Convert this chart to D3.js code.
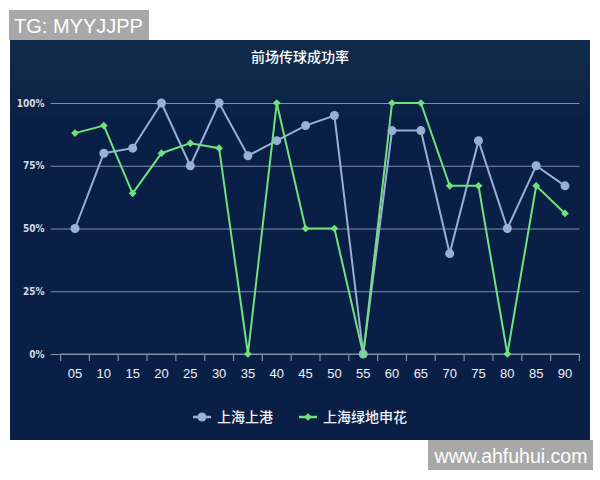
<!DOCTYPE html>
<html>
<head>
<meta charset="utf-8">
<script src="https://cdn.jsdelivr.net/npm/d3@7"></script>
<style>
  body { margin: 0; background: #fff; }
  svg { display: block; }
</style>
</head>
<body>
<div id="chart"></div>
<script>
// DATA ___________________________________________________________
const CATEGORIES = ['05', '10', '15', '20', '25', '30', '35', '40', '45', '50', '55', '60', '65', '70', '75', '80', '85', '90'];
const SHANGGANG = [50, 80, 82, 100, 75, 100, 79, 85, 91, 95, 0, 89, 89, 40, 85, 50, 75, 67];
const SHENHUA = [88, 91, 64, 80, 84, 82, 0, 100, 50, 50, 0, 100, 100, 67, 67, 0, 67, 56];
const Y_TICKS = [0, 25, 50, 75, 100];
const SERIES_NAMES = ['上海上港', '上海绿地申花'];
//________________________________________________________________

const W = 600, H = 480;
const PANEL = {x: 10, y: 40, w: 580, h: 400};
const PLOT = {left: 60.6, right: 579.4, top: 103, bottom: 354};
const BLUE = '#98afd6';
const GREEN = '#6fe27c';

const svg = d3.select('#chart').append('svg')
    .attr('width', W).attr('height', H)
    .style('font-family', '"Noto Sans CJK SC", "Noto Sans", sans-serif');

// background panel with a slightly lighter top band
const defs = svg.append('defs');
const grad = defs.append('linearGradient').attr('id', 'bg').attr('x1', 0).attr('y1', 0).attr('x2', 0).attr('y2', 1);
grad.append('stop').attr('offset', '0%').attr('stop-color', '#0f2a4b');
grad.append('stop').attr('offset', '12%').attr('stop-color', '#0e2749');
grad.append('stop').attr('offset', '20%').attr('stop-color', '#0a1f45');
grad.append('stop').attr('offset', '100%').attr('stop-color', '#0a1f46');

svg.append('rect')
    .attr('x', PANEL.x).attr('y', PANEL.y)
    .attr('width', PANEL.w).attr('height', PANEL.h)
    .attr('fill', 'url(#bg)');

// watermarks
svg.append('rect').attr('x', 9).attr('y', 10).attr('width', 140).attr('height', 30).attr('fill', '#a8a8a8');
svg.append('text').attr('x', 14).attr('y', 33)
    .attr('fill', '#fff').attr('font-size', '20px')
    .style('font-family', '"Liberation Sans", Arial, sans-serif')
    .text('TG: MYYJJPP');
svg.append('rect').attr('x', 428).attr('y', 440).attr('width', 165).attr('height', 30).attr('fill', '#a8a8a8');
svg.append('text').attr('x', 511).attr('y', 463)
    .attr('text-anchor', 'middle')
    .attr('fill', '#fff').attr('font-size', '19.5px')
    .style('font-family', '"Liberation Sans", Arial, sans-serif')
    .text('www.ahfuhui.com');

// title
svg.append('text').attr('x', 300).attr('y', 62)
    .attr('text-anchor', 'middle')
    .attr('fill', '#ffffff').attr('font-size', '14px').attr('font-weight', 500)
    .text('前场传球成功率');

// scales
const xScale = d3.scaleBand().domain(CATEGORIES).range([PLOT.left, PLOT.right]);
const yScale = d3.scaleLinear().domain([0, 100]).range([PLOT.bottom, PLOT.top]);
const cx = function(d) { return xScale(d) + xScale.bandwidth() / 2; };

// gridlines + y labels
const yAxis = svg.append('g')
    .attr('transform', `translate(${PLOT.left - 10},0)`)
    .call(d3.axisLeft(yScale).tickValues(Y_TICKS).tickSize(-(PLOT.right - PLOT.left + 10)).tickPadding(6)
        .tickFormat(function(d) { return d + '%'; }));
yAxis.select('.domain').remove();
yAxis.selectAll('.tick line').attr('stroke', '#7f90ab').attr('stroke-width', 1.2);
yAxis.selectAll('.tick text')
    .attr('fill', '#d5dbe5').attr('font-size', '10px').attr('font-weight', 'bold')
    .style('font-family', '"DejaVu Sans Condensed", "DejaVu Sans", sans-serif');

// x axis with ticks at band boundaries
const xAxis = svg.append('g').attr('transform', `translate(0,${PLOT.bottom})`);
xAxis.append('line')
    .attr('x1', PLOT.left).attr('x2', PLOT.right)
    .attr('stroke', '#7f90ab').attr('stroke-width', 1.2);
xAxis.selectAll('.btick')
    .data(CATEGORIES.concat(['end']))
    .enter().append('line')
    .attr('x1', function(d, i) { return i < CATEGORIES.length ? xScale(d) : PLOT.right; })
    .attr('x2', function(d, i) { return i < CATEGORIES.length ? xScale(d) : PLOT.right; })
    .attr('y1', 0).attr('y2', 7)
    .attr('stroke', '#7f90ab').attr('stroke-width', 1.2);
xAxis.selectAll('.xlabel')
    .data(CATEGORIES)
    .enter().append('text')
    .attr('x', cx).attr('y', 24)
    .attr('text-anchor', 'middle')
    .attr('fill', '#eef2f8').attr('font-size', '13px')
    .style('font-family', '"Liberation Sans", Arial, sans-serif')
    .text(function(d) { return d; });

// lines
const line = d3.line()
    .x(function(d, i) { return cx(CATEGORIES[i]); })
    .y(function(d) { return yScale(d); });

svg.append('path').datum(SHANGGANG)
    .attr('d', line).attr('fill', 'none')
    .attr('stroke', BLUE).attr('stroke-width', 2);
svg.append('path').datum(SHENHUA)
    .attr('d', line).attr('fill', 'none')
    .attr('stroke', GREEN).attr('stroke-width', 2);

// markers
svg.selectAll('.dot-blue')
    .data(SHANGGANG).enter().append('circle')
    .attr('cx', function(d, i) { return cx(CATEGORIES[i]); })
    .attr('cy', function(d) { return yScale(d); })
    .attr('r', 4.5).attr('fill', BLUE);

// square diamond marker (square rotated 45deg)
const diamond = d3.symbol().type(d3.symbolSquare).size(30);
svg.selectAll('.dot-green')
    .data(SHENHUA).enter().append('path')
    .attr('d', diamond)
    .attr('transform', function(d, i) { return `translate(${cx(CATEGORIES[i])},${yScale(d)}) rotate(45)`; })
    .attr('fill', GREEN);

// legend
const legend = svg.append('g').attr('transform', 'translate(0,417)');
const legendItems = [
    {name: SERIES_NAMES[0], color: BLUE, x: 202, shape: 'circle'},
    {name: SERIES_NAMES[1], color: GREEN, x: 308, shape: 'diamond'}
];
legendItems.forEach(function(item) {
    legend.append('line')
        .attr('x1', item.x - 9).attr('x2', item.x + 9)
        .attr('stroke', item.color).attr('stroke-width', 2.5);
    if (item.shape === 'circle') {
        legend.append('circle').attr('cx', item.x).attr('r', 4.5).attr('fill', item.color);
    } else {
        legend.append('path').attr('d', diamond).attr('transform', `translate(${item.x},0) rotate(45)`).attr('fill', item.color);
    }
    legend.append('text')
        .attr('x', item.x + 15).attr('y', 5)
        .attr('fill', '#eef2f8').attr('font-size', '14px').attr('font-weight', 500)
        .text(item.name);
});
</script>
</body>
</html>
